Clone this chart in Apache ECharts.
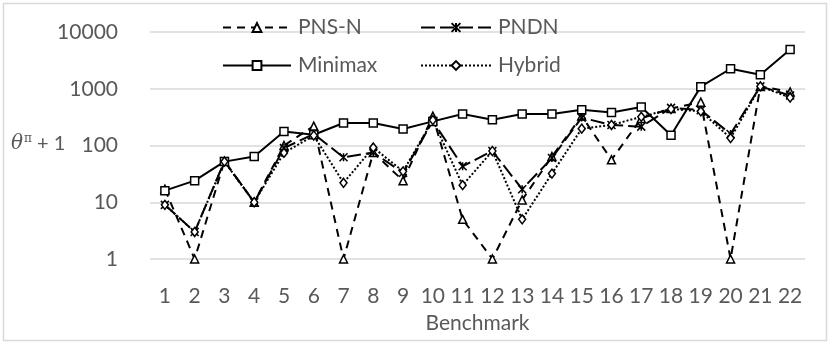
<!DOCTYPE html>
<html>
<head>
<meta charset="utf-8">
<script src="https://cdn.jsdelivr.net/npm/echarts@6/dist/echarts.min.js"></script>
<style>
  html, body { margin: 0; padding: 0; background: #fff; }
  #chart { width: 830px; height: 344px; }
</style>
</head>
<body>
<div id="chart"></div>
<script>
// Benchmark ids on the x axis
const benchmarks = ['1','2','3','4','5','6','7','8','9','10','11','12','13','14','15','16','17','18','19','20','21','22'];

// theta^pi + 1 per benchmark, one array per method
const pnsN    = [17, 1, 53, 10, 100, 220, 1, 75, 24, 330, 5, 1, 11, 64, 330, 56, 300, 450, 580, 1, 1100, 880];
const pndn    = [9, 3, 53, 10, 90, 160, 62, 75, 33, 270, 43, 80, 17, 60, 310, 230, 215, 460, 420, 160, 1100, 760];
const minimax = [16, 24, 52, 64, 177, 155, 249, 249, 195, 266, 359, 285, 359, 359, 427, 383, 477, 151, 1090, 2250, 1770, 4900];
const hybrid  = [9, 3, 52, 10, 74, 150, 22, 92, 35, 280, 20, 80, 5, 32, 198, 230, 320, 440, 400, 135, 1100, 700];

// y axis decade labels
const yTicks = [1, 10, 100, 1000, 10000];

const FONT = 'Lato, "Open Sans", sans-serif';
const FS = 21;
const GREY = '#595959';
const ASTERISK = 'path://M0,0L10,10M10,0L0,10M5,0L5,10';

const chart = echarts.init(document.getElementById('chart'));

function hollow(width) {
  return { color: '#fff', borderColor: '#000', borderWidth: width };
}

function legendAt(name, left, top, width) {
  return {
    data: [name],
    left: left,
    top: top,
    padding: 0,
    itemWidth: width,
    itemHeight: 11,
    textStyle: { fontFamily: FONT, fontSize: FS, color: GREY, padding: [0, 0, 0, 2] },
    selectedMode: false
  };
}

chart.setOption({
  animation: false,
  backgroundColor: '#fff',
  grid: { left: 150, right: 25, top: 32, bottom: 85 },
  legend: [
    legendAt('PNS-N', 222, 17, 68),
    legendAt('PNDN', 420, 17, 70),
    legendAt('Minimax', 222, 55, 68),
    legendAt('Hybrid', 420, 55, 70)
  ],
  graphic: [
    {
      type: 'rect',
      shape: { x: 3.5, y: 3.5, width: 823, height: 337 },
      style: { fill: 'none', stroke: '#d9d9d9', lineWidth: 1.5 },
      silent: true
    },
    {
      type: 'text',
      left: 11,
      top: 133,
      style: {
        text: '{t|θ}{s|π}{n| + 1}',
        rich: {
          t: { fontFamily: '"DejaVu Serif", serif', fontStyle: 'italic', fontSize: 20, fill: GREY },
          s: { fontFamily: '"DejaVu Serif", serif', fontSize: 12, fill: GREY, verticalAlign: 'top', padding: [0, 0, 10, 1] },
          n: { fontFamily: FONT, fontSize: 20, fill: GREY }
        }
      }
    }
  ],
  xAxis: {
    type: 'category',
    data: benchmarks,
    boundaryGap: true,
    axisLine: { show: false },
    axisTick: { show: false },
    axisLabel: { fontFamily: FONT, fontSize: FS, color: GREY, margin: 27, interval: 0 },
    name: 'Benchmark',
    nameLocation: 'middle',
    nameGap: 54,
    nameTextStyle: { fontFamily: FONT, fontSize: FS, color: GREY }
  },
  yAxis: {
    type: 'log',
    logBase: 10,
    min: yTicks[0],
    max: yTicks[yTicks.length - 1],
    axisLine: { show: false },
    axisTick: { show: false },
    axisLabel: {
      fontFamily: FONT, fontSize: FS, color: GREY, margin: 32,
      formatter: function (v) { return String(Math.round(v)); }
    },
    splitLine: { lineStyle: { color: '#d9d9d9', width: 1.5 } }
  },
  series: [
    {
      name: 'PNS-N', type: 'line', data: pnsN,
      symbol: 'triangle', symbolSize: [8, 8],
      lineStyle: { color: '#000', width: 2, type: [8, 6] },
      itemStyle: hollow(1.5)
    },
    {
      name: 'PNDN', type: 'line', data: pndn,
      symbol: ASTERISK, symbolSize: 8,
      lineStyle: { color: '#000', width: 2, type: [14, 5] },
      itemStyle: hollow(1.5)
    },
    {
      name: 'Minimax', type: 'line', data: minimax,
      symbol: 'rect', symbolSize: 8,
      lineStyle: { color: '#000', width: 2, type: 'solid' },
      itemStyle: hollow(1.5)
    },
    {
      name: 'Hybrid', type: 'line', data: hybrid,
      symbol: 'diamond', symbolSize: [7, 9],
      lineStyle: { color: '#000', width: 2, type: [2, 2] },
      itemStyle: hollow(1.5)
    }
  ]
});
</script>
</body>
</html>
